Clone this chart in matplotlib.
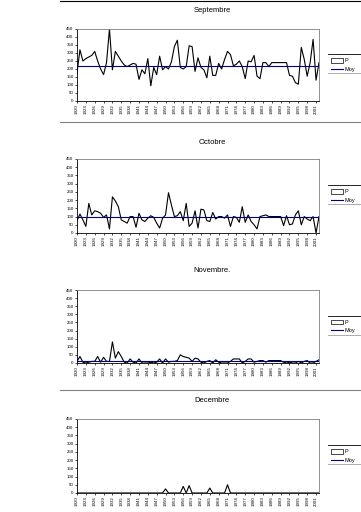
import matplotlib
matplotlib.use("Agg")
import matplotlib.pyplot as plt
from matplotlib.lines import Line2D
from matplotlib.patches import Patch
import numpy as np

plt.rcParams['font.family'] = ['Liberation Sans', 'DejaVu Sans']

years = list(range(1920, 2003))
tick_years = list(range(1920, 2003, 3))

sept = [175, 320, 250, 265, 275, 285, 310, 250, 200, 165,
        240, 450, 195, 310, 280, 250, 225, 215, 225, 235,
        230, 135, 195, 170, 265, 95, 210, 165, 280, 195,
        215, 200, 245, 340, 380, 210, 200, 215, 345, 340,
        185, 270, 210, 195, 145, 280, 160, 160, 235, 200,
        260, 310, 290, 220, 230, 250, 215, 140, 250, 245,
        285, 155, 140, 240, 240, 215, 240, 240, 240, 240,
        240, 240, 160, 155, 115, 105, 335, 260, 155, 240,
        385, 130, 240]
oct_ = [75, 115, 80, 40, 180, 110, 135, 130, 120, 95,
        110, 25, 220, 195, 160, 80, 70, 60, 100, 100,
        35, 120, 80, 70, 90, 105, 95, 60, 30, 90,
        110, 245, 170, 100, 105, 130, 75, 180, 40, 60,
        135, 30, 145, 140, 75, 70, 125, 85, 100, 100,
        90, 110, 40, 100, 95, 65, 160, 65, 110, 70,
        50, 25, 100, 105, 110, 100, 100, 100, 100, 100,
        45, 105, 50, 55, 110, 135, 50, 100, 85, 75,
        100, 0, 100]
nov = [10, 40, 5, 0, 5, 10, 10, 40, 5, 35,
       10, 10, 130, 30, 70, 40, 5, 0, 25, 5,
       0, 25, 0, 0, 0, 5, 0, 5, 25, 0,
       25, 5, 10, 10, 15, 50, 40, 35, 30, 10,
       30, 25, 5, 0, 10, 15, 0, 20, 5, 0,
       0, 0, 10, 25, 25, 25, 0, 10, 25, 25,
       5, 10, 15, 15, 5, 15, 15, 15, 15, 15,
       5, 0, 5, 0, 0, 10, 0, 10, 15, 0,
       0, 10, 20]
dec = [0] * 83
for yr, v in [(1950, 25), (1956, 40), (1958, 45), (1965, 30), (1971, 50)]:
    dec[yr - 1920] = v

means = [221, 97, 12, 2]
titles = ["Septembre", "Octobre", "Novembre.", "Decembre"]
series = [sept, oct_, nov, dec]

W, H = 361, 512
fig = plt.figure(figsize=(W / 100, H / 100), dpi=100)

boxes = [(29, 101), (159, 233), (290, 363), (419, 493)]
title_y = [10, 142, 270, 400]
left_px, right_px = 77, 319

def fx(px):
    return px / W

def fy(py):
    return 1 - py / H

for i, (vals, m, t) in enumerate(zip(series, means, titles)):
    top, bot = boxes[i]
    ax = fig.add_axes([fx(left_px), fy(bot), fx(right_px - left_px), (bot - top) / H])
    ax.plot(years, vals, color='black', lw=0.8)
    ax.plot(years, [m] * len(years), color='#000080', lw=0.8)
    ax.set_xlim(1920, 2002)
    ax.set_ylim(0, 450)
    ax.set_yticks(range(0, 451, 50))
    ax.set_yticklabels([str(v) for v in range(0, 451, 50)], fontsize=3.2)
    ax.set_xticks(tick_years)
    ax.set_xticklabels([str(y) for y in tick_years], rotation=90, fontsize=3.2)
    ax.tick_params(length=1.5, width=0.5, pad=1)
    for s in ['top', 'right']:
        ax.spines[s].set_color('#808080')
        ax.spines[s].set_linewidth(0.6)
    for s in ['left', 'bottom']:
        ax.spines[s].set_color('black')
        ax.spines[s].set_linewidth(0.6)
    fig.text(fx(212), fy(title_y[i]), t, ha='center', va='center', fontsize=5.5)
    handles = [Patch(facecolor='white', edgecolor='black', linewidth=0.5),
               Line2D([0], [0], color='#000080', lw=0.8)]
    ax.legend(handles, ['P', 'Moy'], loc='center left', bbox_to_anchor=(1.04, 0.5),
              frameon=False, fontsize=4, handlelength=2.2, handleheight=0.8,
              handletextpad=0.2, labelspacing=0.6, borderaxespad=0)
    cy = (top + bot) / 2
    fig.add_artist(Line2D([fx(328), fx(361)], [fy(cy - 11), fy(cy - 11)], color='black', lw=0.6))
    fig.add_artist(Line2D([fx(328), fx(361)], [fy(cy + 8), fy(cy + 8)], color='#a0a0a0', lw=0.6))

fig.add_artist(Line2D([fx(60), 1], [fy(1), fy(1)], color='black', lw=0.8))
fig.add_artist(Line2D([fx(60), 1], [fy(122), fy(122)], color='#808080', lw=0.8))
fig.add_artist(Line2D([fx(60), 1], [fy(390), fy(390)], color='#808080', lw=0.8))

fig.savefig("out.png", dpi=100)
